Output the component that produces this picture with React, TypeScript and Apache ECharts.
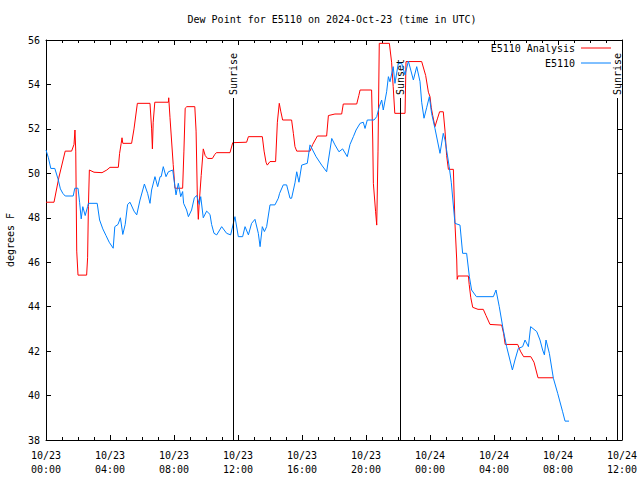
import React, { useEffect, useRef } from "react";
import * as echarts from "echarts";

const TITLE = "Dew Point for E5110 on 2024-Oct-23 (time in UTC)";
const Y_NAME = "degrees F";
const SERIES_NAMES = ["E5110 Analysis", "E5110"];
const SERIES_COLORS = ["#ff0000", "#0080ff"];

// hours since 10/23 00:00 UTC
const xTickLabels = [
  "10/23\n00:00", "10/23\n04:00", "10/23\n08:00", "10/23\n12:00", "10/23\n16:00",
  "10/23\n20:00", "10/24\n00:00", "10/24\n04:00", "10/24\n08:00", "10/24\n12:00",
];

const sunEventNames = ["Sunrise", "Sunset", "Sunrise"];
const sunEventHours = [11.69, 22.125, 35.69];

const analysisHours = [
  0.0, 0.5, 0.8, 1.2, 1.6, 1.75, 1.81, 1.86, 1.92, 2.0, 2.54, 2.6, 2.65, 2.71, 3.0, 3.5, 3.8, 4.0,
  4.52, 4.6, 4.7, 4.75, 4.8, 5.35, 5.5, 5.71, 6.5, 6.6, 6.65, 6.7, 6.8, 7.65, 7.67, 7.75, 7.95, 8.06,
  8.54, 8.62, 8.7, 8.8, 9.3, 9.38, 9.46, 9.52, 9.57, 9.7, 9.83, 9.95, 10.1, 10.4, 10.55, 10.65, 11.5,
  11.67, 12.54, 12.65, 13.52, 13.63, 13.75, 13.83, 14.0, 14.35, 14.46, 14.58, 14.67, 14.79, 15.35,
  15.46, 15.56, 15.67, 16.5, 16.67, 16.96, 17.54, 17.65, 18.06, 18.48, 18.58, 19.42, 19.55, 19.63,
  20.35, 20.42, 20.46, 20.6, 20.67, 20.75, 20.83, 21.46, 21.6, 21.7, 21.8, 22.44, 22.5, 23.48, 23.73,
  23.9, 24.0, 24.08, 24.17, 24.31, 24.46, 24.6, 24.83, 24.94, 25.04, 25.15, 25.46, 25.56, 25.67, 25.7,
  25.75, 26.4, 26.45, 26.55, 26.67, 27.0, 27.33, 27.5, 27.75, 28.48, 28.6, 28.7, 29.48, 29.65, 29.85,
  30.3, 30.5, 30.75, 31.7,
];
const analysisValues = [
  48.7, 48.7, 49.8, 51.0, 51.0, 51.3, 51.95, 51.0, 46.5, 45.42, 45.42, 46.2, 48.5, 50.15, 50.05, 50.03, 50.15, 50.27,
  50.27, 50.9, 51.35, 51.6, 51.35, 51.35, 52.0, 53.15, 53.15, 52.0, 51.1, 52.3, 53.2, 53.2, 53.4, 52.5, 50.4, 49.33,
  49.33, 51.0, 52.93, 53.0, 53.0, 51.9, 48.9, 47.93, 48.6, 49.9, 51.1, 50.8, 50.67, 50.67, 50.85, 50.93, 50.93,
  51.38, 51.4, 51.65, 51.65, 51.0, 50.5, 50.37, 50.53, 50.53, 52.3, 53.15, 52.8, 52.4, 52.4,
  51.8, 51.2, 51.0, 51.0, 51.3, 51.68, 51.68, 52.6, 52.67, 52.67, 53.12, 53.12, 53.5, 53.75,
  53.75, 51.5, 49.55, 48.27, 47.67, 51.0, 55.85, 55.85, 55.0, 53.9, 52.7, 52.7, 55.03, 55.03, 54.4,
  53.65, 53.45, 52.95, 52.6, 52.1, 52.45, 52.77, 52.77, 51.9, 50.8, 50.18, 50.18, 47.75, 46.1, 45.23,
  45.38, 45.38, 45.0, 44.4, 43.97, 43.88, 43.88, 43.6, 43.2, 43.17, 42.8, 42.3, 42.3, 42.0, 41.75,
  41.75, 41.5, 40.8, 40.8,
];

const stationHours = [
  0.0, 0.15, 0.3, 0.55, 0.75, 0.9, 1.05, 1.2, 1.7, 1.8, 2.0, 2.1, 2.2, 2.3, 2.45, 2.6, 2.65, 3.2,
  3.35, 3.55, 3.75, 3.95, 4.2, 4.3, 4.5, 4.65, 4.8, 4.95, 5.1, 5.25, 5.5, 5.67, 5.875, 6.15, 6.35,
  6.5, 6.6, 6.81, 6.98, 7.13, 7.2, 7.33, 7.5, 7.65, 7.92, 8.125, 8.27, 8.42, 8.54, 8.6, 8.79, 8.9,
  9.1, 9.27, 9.42, 9.58, 9.67, 9.83, 10.04, 10.25, 10.35, 10.5, 10.67, 10.98, 11.29, 11.54, 11.81,
  12.02, 12.29, 12.44, 12.65, 12.85, 13.06, 13.27, 13.38, 13.52, 13.65, 13.79, 14.0, 14.31, 14.52,
  14.6, 14.83, 15.04, 15.25, 15.35, 15.56, 15.67, 15.81, 15.98, 16.33, 16.5, 16.88, 17.23, 17.54,
  17.86, 18.06, 18.31, 18.54, 18.83, 19.0, 19.21, 19.38, 19.63, 19.83, 19.94, 20.08, 20.5, 20.67,
  20.83, 20.98, 21.08, 21.29, 21.4, 21.5, 21.7, 21.81, 22.02, 22.23, 22.44, 22.65, 22.96, 23.17,
  23.375, 23.48, 23.625, 23.79, 23.96, 24.1, 24.31, 24.625, 24.83, 24.94, 25.2, 25.33, 25.56, 25.875,
  26.04, 26.29, 26.46, 26.6, 26.9, 27.96, 28.125, 28.33, 28.58, 28.79, 29.15, 29.31, 29.52, 29.79,
  29.94, 30.15, 30.29, 30.67, 30.875, 31.04, 31.15, 31.25, 31.46, 31.71, 31.98, 32.29, 32.44, 32.69,
];
const stationValues = [
  51.05, 50.7, 50.22, 50.22, 49.75, 49.3, 49.1, 48.98, 48.98, 49.33, 49.33, 48.7, 47.95, 48.5, 48.1, 48.5, 48.65, 48.65,
  47.9, 47.5, 47.2, 46.9, 46.63, 47.6, 47.7, 48.0, 47.25, 47.7, 48.6, 48.7, 48.3, 48.13, 48.8, 49.52, 49.1,
  48.65, 49.25, 49.85, 49.4, 49.85, 49.85, 50.3, 49.85, 50.07, 50.15, 49.03, 49.55, 48.95, 49.18, 48.65, 48.35, 48.05,
  48.35, 48.9, 49.0, 48.6, 48.95, 48.0, 48.3, 48.15, 47.7, 47.3, 47.23, 47.6, 47.3, 47.23, 48.05,
  47.15, 47.15, 47.6, 47.23, 47.75, 47.93, 47.3, 46.7, 47.6, 47.38, 47.6, 48.58, 48.58, 48.88,
  49.1, 49.48, 49.48, 48.88, 48.88, 49.57, 50.07, 49.6, 50.37, 50.45, 51.28, 50.75, 50.37, 50.07,
  51.57, 51.28, 50.97, 51.1, 50.75, 51.3, 51.65, 51.95, 52.25, 52.3, 52.02, 52.4, 52.4, 52.55,
  53.0, 53.3, 52.85, 53.67, 54.35, 54.12, 54.8, 54.05, 54.95, 54.95, 54.43, 55.05, 54.2, 54.8,
  54.13, 53.2, 52.48, 52.95, 53.45, 52.7, 52.02, 50.9, 51.8, 51.5, 50.3, 49.6, 47.75, 47.67,
  46.4, 46.4, 45.35, 44.75, 44.45, 44.45, 44.75, 44.0, 42.95, 42.2, 41.15, 41.6, 42.12, 42.2,
  42.5, 42.2, 43.1, 42.88, 42.5, 42.05, 41.83, 42.5, 41.9, 40.78, 40.1, 39.27, 38.85, 38.85,
];

const X_MIN = 0;
const X_MAX = 36;
const X_STEP = 4;
const Y_MIN = 38;
const Y_MAX = 56;
const Y_STEP = 2;
const SUN_LINE_TOP = 53.39;

const FONT = "DejaVu Sans Mono";

export default function App() {
  const ref = useRef<HTMLDivElement>(null);

  useEffect(() => {
    if (!ref.current) return;
    const chart = echarts.init(ref.current, null, { renderer: "svg" });
    const analysisData = analysisHours.map((h, i) => [h, analysisValues[i]]);
    const stationData = stationHours.map((h, i) => [h, stationValues[i]]);

    const tick = { show: true, inside: true, length: 5, lineStyle: { color: "#000" } };
    const minor = { show: true, splitNumber: 4, length: 3, lineStyle: { color: "#000" } };
    const axisLine = { show: true, onZero: false, lineStyle: { color: "#000", width: 1 } };

    chart.setOption({
      animation: false,
      backgroundColor: "#fff",
      textStyle: { fontFamily: FONT },
      grid: { left: 46, right: 18, top: 40, bottom: 40, containLabel: false, outerBoundsMode: "none" },
      xAxis: [
        {
          type: "value", min: X_MIN, max: X_MAX, interval: X_STEP,
          axisLine, axisTick: tick, minorTick: minor, splitLine: { show: false },
          axisLabel: {
            color: "#000", fontFamily: FONT, fontSize: 10, margin: 8, lineHeight: 14,
            formatter: (v: number) => xTickLabels[Math.round(v / X_STEP)] ?? "",
          },
        },
        {
          type: "value", position: "top", min: X_MIN, max: X_MAX, interval: X_STEP,
          axisLine, axisTick: tick, minorTick: minor, splitLine: { show: false },
          axisLabel: { show: false },
        },
      ],
      yAxis: [
        {
          type: "value", min: Y_MIN, max: Y_MAX, interval: Y_STEP,
          axisLine, axisTick: tick, splitLine: { show: false },
          axisLabel: { color: "#000", fontFamily: FONT, fontSize: 10, margin: 6 },
          name: Y_NAME, nameLocation: "middle", nameGap: 31, nameRotate: 90,
          nameTextStyle: { color: "#000", fontFamily: FONT, fontSize: 10 },
        },
        {
          type: "value", position: "right", min: Y_MIN, max: Y_MAX, interval: Y_STEP,
          axisLine, axisTick: tick, splitLine: { show: false }, axisLabel: { show: false },
        },
      ],
      series: [
        {
          name: SERIES_NAMES[0], type: "line", data: analysisData, showSymbol: false, symbol: "none",
          lineStyle: { color: SERIES_COLORS[0], width: 1 }, itemStyle: { color: SERIES_COLORS[0] },
          z: 3,
          markLine: {
            silent: true, symbol: "none", label: { show: false },
            lineStyle: { color: "#000", width: 1, type: "solid" },
            data: sunEventHours.map((h) => [{ coord: [h, Y_MIN] }, { coord: [h, SUN_LINE_TOP] }]),
          },
        },
        {
          name: SERIES_NAMES[1], type: "line", data: stationData, showSymbol: false, symbol: "none",
          lineStyle: { color: SERIES_COLORS[1], width: 1 }, itemStyle: { color: SERIES_COLORS[1] },
          z: 4,
        },
      ],
    });

    const sunTexts = sunEventHours.map((h, i) => {
      const p = chart.convertToPixel({ xAxisIndex: 0, yAxisIndex: 0 }, [h, SUN_LINE_TOP]) as number[];
      return {
        type: "text", x: p[0], y: p[1] - 3, rotation: Math.PI / 2,
        style: { text: sunEventNames[i], fill: "#000", font: `10px "${FONT}"`, textAlign: "left", textVerticalAlign: "middle" },
      };
    });

    const legend = SERIES_NAMES.flatMap((name, i) => [
      {
        type: "text", x: 575, y: 48 + i * 15,
        style: { text: name, fill: "#000", font: `10px "${FONT}"`, textAlign: "right", textVerticalAlign: "middle" },
      },
      {
        type: "line", shape: { x1: 581, y1: 48 + i * 15, x2: 611, y2: 48 + i * 15 },
        style: { stroke: SERIES_COLORS[i], lineWidth: 1 },
      },
    ]);

    chart.setOption({
      graphic: [
        {
          type: "text", x: 332, y: 19,
          style: { text: TITLE, fill: "#000", font: `10px "${FONT}"`, textAlign: "center", textVerticalAlign: "middle" },
        },
        ...legend,
        ...sunTexts,
      ],
    });

    return () => chart.dispose();
  }, []);

  return (
    <div
      ref={ref}
      style={{ position: "absolute", left: 0, top: 0, width: 640, height: 480, background: "#fff" }}
    />
  );
}
